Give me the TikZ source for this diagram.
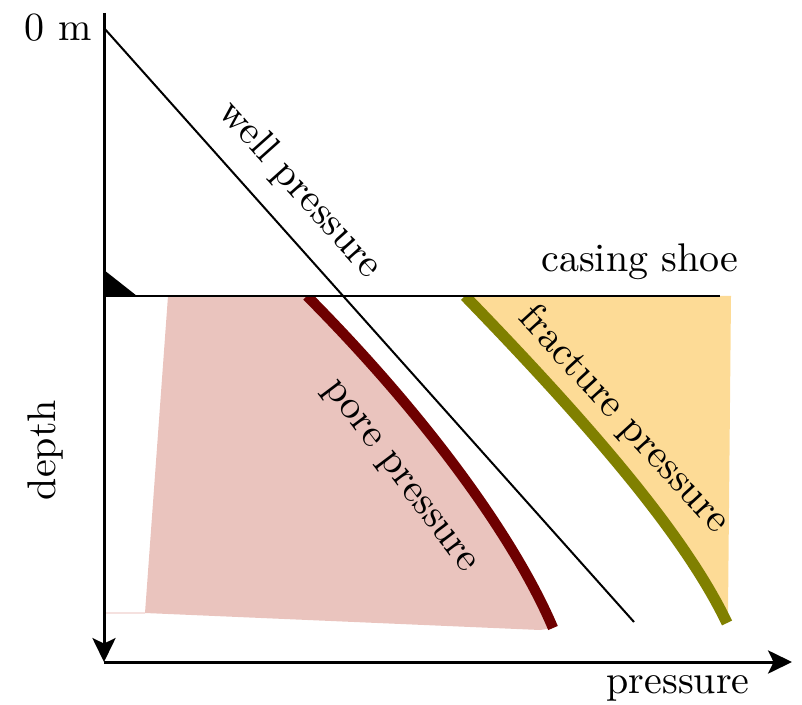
\documentclass[tikz,border=0pt]{standalone}
\usepackage{amsmath,amssymb}
\usepackage{tikz}
\usetikzlibrary{arrows.meta,positioning,calc}

\definecolor{porefill}{RGB}{234,196,190}
\definecolor{fracfill}{RGB}{253,219,150}
\definecolor{porecol}{RGB}{110,0,0}
\definecolor{fraccol}{RGB}{128,128,0}

\begin{document}
\begin{tikzpicture}[
  x=0.25pt, y=-0.25pt,
  axis/.style={-{Stealth[length=6pt, width=5.8pt, inset=1.4pt]}, line width=0.75pt},
  thinline/.style={line width=0.5pt},
  porecurve/.style={line width=2.6pt, porecol},
  fraccurve/.style={line width=2.8pt, fraccol},
  label/.style={inner sep=1pt}
]
\useasboundingbox (0,0) rectangle (802,705);

\coordinate (top) at (104,13);
\coordinate (origin) at (104,662);
\coordinate (xend) at (792,662);
\coordinate (shoeL) at (104,296);
\coordinate (shoeR) at (720,296);
\coordinate (wellA) at (104,28);
\coordinate (wellB) at (634,622);
\coordinate (poreA) at (307,296);
\coordinate (poreB) at (553,628);
\coordinate (fracA) at (465,296);
\coordinate (fracB) at (727,623);

% windows
\fill[porefill] (168,296) -- (poreA) .. controls (440,430) and (520,550) .. (poreB)
  -- (540,630) -- (145,613) -- cycle;
\draw[porefill!50, line width=0.5pt] (104,613) -- (145,613);
\fill[fracfill] (fracA) .. controls (590,425) and (685,535) .. (fracB)
  -- (728,612) -- (731,296) -- cycle;

% curves
\begin{scope}
  \clip (104,296) rectangle (802,705);
  \draw[porecurve] (poreA) .. controls (440,430) and (520,550) .. (poreB);
  \draw[fraccurve] (fracA) .. controls (590,425) and (685,535) .. (fracB);
\end{scope}

\draw[thinline] (wellA) -- (wellB);
\draw[thinline] (shoeL) -- (shoeR);
\fill (104,270) -- (shoeL) -- (137,296) -- cycle;

% axes
\draw[axis] (top) -- (origin);
\draw[axis] (origin) -- (xend);

\node[label] (zero) at (58,28) {0 m};
\node[label, rotate=90] (depth) at (45,450) {depth};
\node[label] (press) at (678,688) {pressure};
\node[label] (shoe) at (640,262) {casing shoe};
\node[label, rotate=-48.2] (well) at (300,190) {well pressure};
\node[label, rotate=-53] (pore) at (398,478) {pore pressure};
\node[label, rotate=-47.5] (frac) at (624,420) {fracture pressure};
\end{tikzpicture}
\end{document}
